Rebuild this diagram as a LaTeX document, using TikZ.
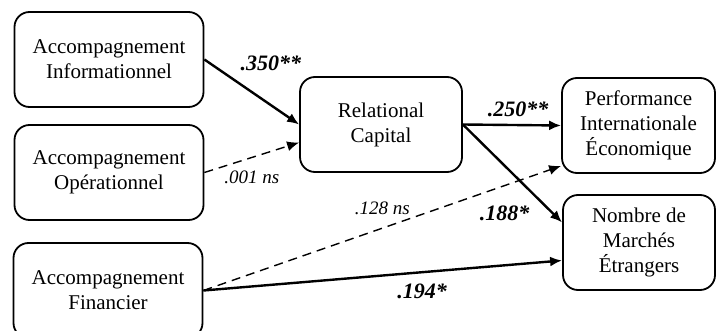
\documentclass[tikz,border=0pt]{standalone}
\usepackage{fontspec}
\setmainfont{Liberation Serif}
\usepackage{tikz}
\usetikzlibrary{arrows.meta}
\tikzset{construct/.style={draw, line width=0.9pt, rounded corners=7.5pt, align=center, minimum width=94.5pt, minimum height=47.5pt, font=\fontsize{10.5}{12.5}\selectfont}}
\tikzset{effect/.style={line width=1.2pt, -{Latex[length=6pt, width=5pt]}}}
\tikzset{ns effect/.style={line width=0.7pt, dash pattern=on 4.5pt off 3pt, -{Latex[length=6pt, width=5pt]}}}
\tikzset{coef/.style={font=\fontsize{11}{13}\selectfont\bfseries\itshape}}
\tikzset{ns coef/.style={font=\fontsize{9.5}{11}\selectfont\itshape}}

\begin{document}
\begin{tikzpicture}[x=0.5pt, y=-0.5pt]
            \useasboundingbox (0, 0) rectangle (716, 331);
            \node[construct] (info) at (109, 59.5) {Accompagnement\\Informationnel};
            \node[construct] (oper) at (109, 172.5) {Accompagnement\\Opérationnel};
            \node[construct] (fin) at (108, 290.5) {Accompagnement\\Financier};
            \node[construct, minimum width=81pt] (rc) at (381, 124.5) {Relational\\Capital};
            \node[construct, minimum width=76.5pt] (perf) at (638.5, 125.5) {Performance\\Internationale\\Économique};
            \node[construct, minimum width=76pt] (nombre) at (639, 242.5) {Nombre de\\Marchés\\Étrangers};
            \draw[effect] (info.east) -- (rc.west) node [pos=0.3, above right, coef] (c350) {.350**};
            \draw[ns effect] (oper.east) -- ([yshift=-9pt]rc.west) node [midway, below, yshift=-3pt, ns coef] (c001) {.001 ns};
            \draw[effect] (rc.east) -- (perf.west) node [midway, above, xshift=3pt, coef] (c250) {.250**};
            \draw[effect] (rc.east) -- ([yshift=10pt]nombre.west) node [pos=0.75, below left, coef] (c188) {.188*};
            \draw[ns effect] (fin.east) -- ([yshift=4pt]perf.south west) node [midway, above, yshift=3pt, ns coef] (c128) {.128 ns};
            \draw[effect] (fin.east) -- ([yshift=-9pt]nombre.west) node [pos=0.61, below, yshift=-2pt, coef] (c194) {.194*};
        \end{tikzpicture}
\end{document}
